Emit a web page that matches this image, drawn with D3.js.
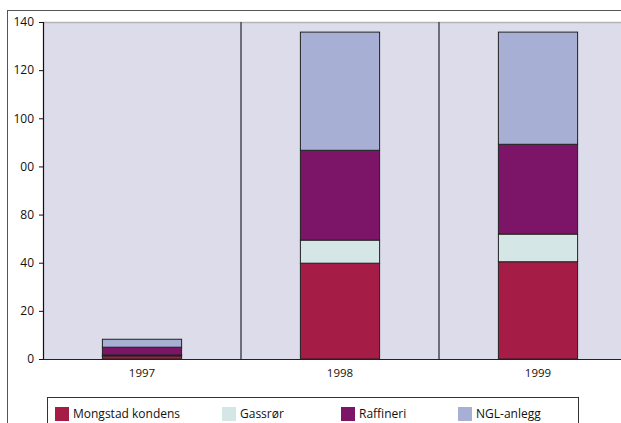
<!DOCTYPE html>
<html><head><meta charset="utf-8">
<script src="https://cdn.jsdelivr.net/npm/d3@7"></script>
<style>
html,body{margin:0;padding:0;background:#fff;}
svg{display:block;font-family:"Open Sans",sans-serif;}
</style></head>
<body>
<svg id="c" width="621" height="423"></svg>
<script>
const categories = ["1997", "1998", "1999"];
const seriesNames = ["Mongstad kondens", "Gassrør", "Raffineri", "NGL-anlegg"];
const mongstad = [1.3, 39.8, 40.4];
const gassror = [0.4, 9.6, 11.5];
const raffineri = [3.2, 37.3, 37.3];
const ngl = [3.3, 49.1, 46.6];
const yTickValues = [0, 20, 40, 60, 80, 100, 120, 140];
const yTickLabels = ["0", "20", "40", "80", "00", "100", "120", "140"];
const colors = ["#A51D47", "#D5E6E6", "#7C1468", "#A7AFD4"];

const seriesValues = [mongstad, gassror, raffineri, ngl];
const rows = categories.map((c, i) => {
  const r = {cat: c};
  seriesNames.forEach((s, j) => r[s] = seriesValues[j][i]);
  return r;
});
const stacked = d3.stack().keys(seriesNames)(rows);

const svg = d3.select("#c");
const L = 43, R = 637, T = 22, B = 359;
const x = d3.scaleBand().domain(categories).range([L, R]).paddingInner(0.6).paddingOuter(0.3);
const y = d3.scaleLinear().domain([0, 140]).range([B, T]);

// outer frame
svg.append("rect").attr("x", 7.5).attr("y", 10.5).attr("width", 700).attr("height", 500)
  .attr("fill", "none").attr("stroke", "#555").attr("stroke-width", 1);

// plot background
svg.append("rect").attr("x", L).attr("y", T).attr("width", R - L).attr("height", B - T)
  .attr("fill", "#DCDCEA");
svg.append("line").attr("x1", L).attr("x2", R).attr("y1", T + 0.5).attr("y2", T + 0.5)
  .attr("stroke", "#B5B3B3").attr("stroke-width", 1.5);

// category separators
const step = x.step();
categories.slice(1).forEach(c => {
  const xs = x(c) + x.bandwidth() / 2 - step / 2;
  svg.append("line").attr("x1", xs).attr("x2", xs).attr("y1", T).attr("y2", B)
    .attr("stroke", "#4a4a55").attr("stroke-width", 1.5);
});

// bars
svg.append("g").selectAll("g").data(stacked).join("g")
  .attr("fill", (d, i) => colors[i])
  .selectAll("rect").data(d => d).join("rect")
  .attr("x", d => x(d.data.cat))
  .attr("width", x.bandwidth())
  .attr("y", d => y(d[1]))
  .attr("height", d => y(d[0]) - y(d[1]))
  .attr("stroke", "#222")
  .attr("stroke-width", 1);

// y axis
const yAxis = d3.axisLeft(y).tickValues(yTickValues)
  .tickFormat((d, i) => yTickLabels[i]).tickSize(4).tickPadding(5);
const gy = svg.append("g").attr("transform", `translate(${L},0)`).call(yAxis);
gy.select(".domain").attr("stroke", "#111").attr("stroke-width", 1.2);
gy.selectAll(".tick line").attr("stroke", "#111");
gy.selectAll("text").attr("font-size", 12).attr("fill", "#111").attr("font-family", "Open Sans");

// x axis
const xAxis = d3.axisBottom(x).tickSize(0).tickPadding(10);
const gx = svg.append("g").attr("transform", `translate(0,${B})`).call(xAxis);
gx.select(".domain").attr("stroke", "#222").attr("stroke-width", 1.2);
gx.selectAll("text").attr("font-size", 11.5).attr("fill", "#111").attr("font-family", "Open Sans");

// legend
const legX = [55, 222, 341, 458];
svg.append("rect").attr("x", 47.5).attr("y", 397.5).attr("width", 531).attr("height", 60)
  .attr("fill", "#fff").attr("stroke", "#333").attr("stroke-width", 1);
const lg = svg.append("g").selectAll("g").data(seriesNames).join("g")
  .attr("transform", (d, i) => `translate(${legX[i]},407)`);
lg.append("rect").attr("width", 14).attr("height", 14).attr("fill", (d, i) => colors[i]);
lg.append("text").attr("x", 18).attr("y", 11).attr("font-size", 12).attr("fill", "#111")
  .text(d => d);
</script>
</body></html>
